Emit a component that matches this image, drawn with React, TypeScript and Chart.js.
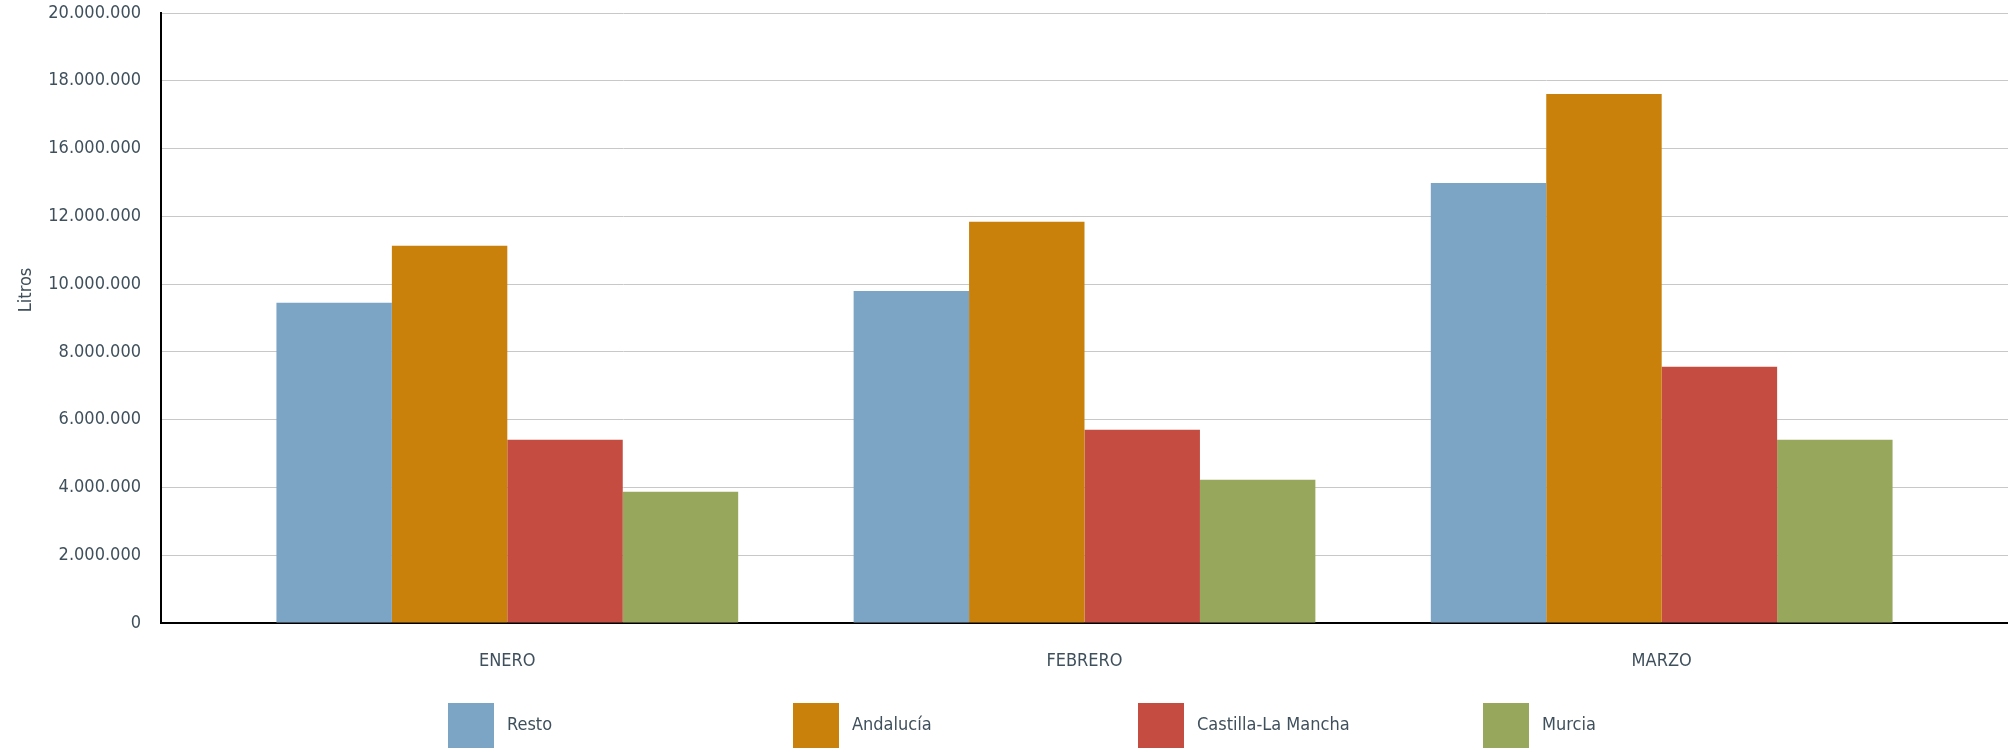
import React, { useEffect, useRef } from "react";
import { Chart, registerables } from "chart.js";

Chart.register(...registerables);

// ---- data ----
const categories = ["ENERO", "FEBRERO", "MARZO"];
const seriesNames = ["Resto", "Andalucía", "Castilla-La Mancha", "Murcia"];
const resto = [9450000, 9800000, 12980000];
const andalucia = [11130000, 11840000, 15610000];
const castillaLaMancha = [5410000, 5700000, 7560000];
const murcia = [3870000, 4230000, 5410000];
const seriesColors = ["#7ca4c4", "#c9810c", "#c44c40", "#97a75b"];
const yTickLabels = [
  "0",
  "2.000.000",
  "4.000.000",
  "6.000.000",
  "8.000.000",
  "10.000.000",
  "12.000.000",
  "16.000.000",
  "18.000.000",
  "20.000.000",
];
const yAxisTitle = "Litros";
const yStep = 2000000;

// ---- style ----
const FONT = "'DejaVu Sans Condensed', 'Liberation Sans Narrow', 'Roboto', sans-serif";
const FONT_SIZE = 18;
const TEXT = "#3f505c";
const W = 2008;
const H = 750;

const legendPlugin = {
  id: "customLegendAndTitle",
  afterDraw(chart: any) {
    const { ctx, chartArea } = chart;
    // y axis title
    ctx.save();
    ctx.font = `${FONT_SIZE}px ${FONT}`;
    ctx.fillStyle = TEXT;
    ctx.translate(26, chartArea.top + chartArea.height * 0.454);
    ctx.rotate(-Math.PI / 2);
    ctx.textAlign = "center";
    ctx.textBaseline = "middle";
    ctx.fillText(yAxisTitle, 0, 0);
    ctx.restore();

    // legend
    const boxW = 46;
    const boxH = 45;
    const step = 345;
    const startX = chartArea.left + 287;
    const top = chartArea.bottom + 80;
    ctx.save();
    ctx.font = `${FONT_SIZE}px ${FONT}`;
    chart.data.datasets.forEach((ds: any, i: number) => {
      const x = startX + i * step;
      ctx.fillStyle = ds.backgroundColor;
      ctx.fillRect(x, top, boxW, boxH);
      ctx.fillStyle = TEXT;
      ctx.textAlign = "left";
      ctx.textBaseline = "middle";
      ctx.fillText(ds.label, x + boxW + 13, top + boxH / 2);
    });
    ctx.restore();
  },
};

export default function App() {
  const canvasRef = useRef<HTMLCanvasElement | null>(null);

  useEffect(() => {
    const canvas = canvasRef.current;
    if (!canvas) return;
    const series = [resto, andalucia, castillaLaMancha, murcia];
    const chart = new Chart(canvas, {
      type: "bar",
      data: {
        datasets: series.map((vals, i) => ({
          label: seriesNames[i],
          data: vals.map((v, j) => ({ x: j, y: v })),
          backgroundColor: seriesColors[i],
          borderWidth: 0,
          categoryPercentage: 0.8,
          barPercentage: 1,
        })),
      },
      options: {
        responsive: false,
        animation: false,
        devicePixelRatio: 1,
        layout: { padding: { top: 13, left: 0, right: 0, bottom: 0 } },
        plugins: {
          legend: { display: false },
          tooltip: { enabled: false },
        },
        scales: {
          x: {
            type: "linear",
            offset: false,
            min: -0.6,
            max: categories.length - 1 + 0.6,
            afterBuildTicks: (axis: any) => {
              axis.ticks = categories.map((_, i) => ({ value: i }));
            },
            afterFit: (axis: any) => {
              axis.height = 127;
              axis.paddingLeft = 0;
              axis.paddingRight = 0;
            },
            grid: { display: false, drawTicks: false },
            border: { display: true, color: "#000", width: 2 },
            ticks: {
              autoSkip: false,
              maxRotation: 0,
              padding: 28,
              color: TEXT,
              font: { family: FONT, size: FONT_SIZE },
              callback: (v: any) => categories[Math.round(Number(v))] ?? "",
            },
          },
          y: {
            min: 0,
            max: (yTickLabels.length - 1) * yStep,
            afterFit: (axis: any) => {
              axis.width = 161;
              axis.paddingTop = 0;
              axis.paddingBottom = 0;
            },
            grid: { color: "#c8c8c8", lineWidth: 1, drawTicks: false },
            border: { display: true, color: "#000", width: 2 },
            ticks: {
              stepSize: yStep,
              padding: 20,
              color: TEXT,
              font: { family: FONT, size: FONT_SIZE },
              callback: (_v: any, i: number) => yTickLabels[i] ?? "",
            },
          },
        },
      },
      plugins: [legendPlugin],
    });
    return () => chart.destroy();
  }, []);

  return (
    <div style={{ position: "fixed", left: 0, top: 0, width: W, height: H, background: "#fff" }}>
      <canvas ref={canvasRef} width={W} height={H} style={{ width: W, height: H, display: "block" }} />
    </div>
  );
}
